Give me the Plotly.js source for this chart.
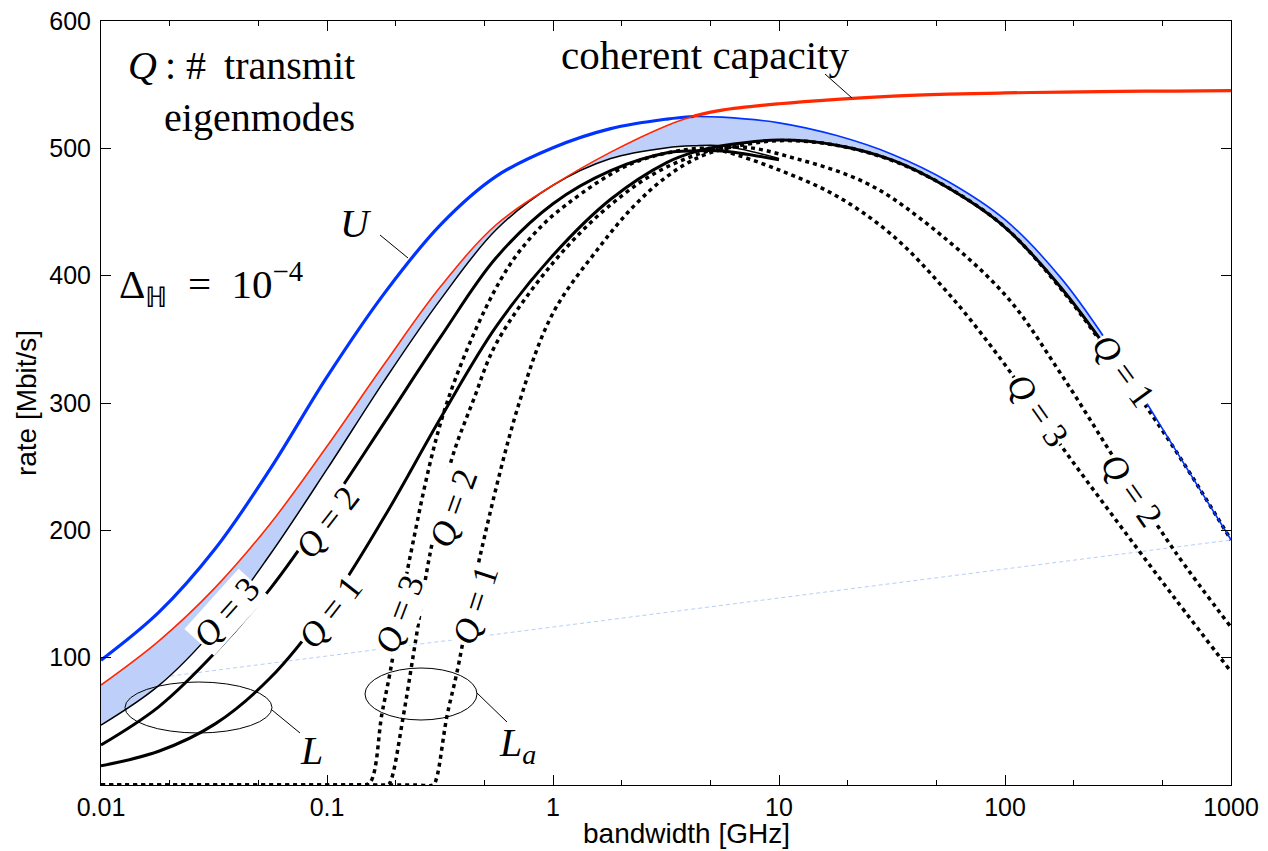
<!DOCTYPE html>
<html><head><meta charset="utf-8">
<script src="https://cdn.plot.ly/plotly-3.0.1.min.js"></script>
<style>html,body{margin:0;padding:0;background:#fff}#chart{width:1268px;height:851px}</style>
</head><body><div id="chart"></div>
<script>
// common bandwidth grid [GHz]
const bandwidth = [0.01,0.018,0.032,0.056,0.1,0.18,0.32,0.56,1,1.8,3.2,4.2,5.6,10,18,32,56,100,180,320,560,1000];
// upper bound U [Mbit/s]
const rateU = [98,135.5,185.5,248,320.5,386.5,440.5,478,500.5,515.5,523,525,524.5,520,510,495,474,444,396.5,334,265,192.5];
// coherent capacity
const rateCoherent = [78.5,113,155,205,266,331,392,440,471,497,518,525.4,530,535,538.5,541,542.5,543.5,544.2,544.7,545,545.3];
// lower bounds L (solid), Q = 1, 2, 3
const rateLQ1 = [15,26.5,48,84,139,211,289,360,416,460,489,497,502,506.5,502.5,490.5,469,438,389,329,null,null];
const rateLQ2 = [31.4,61.4,104,154,216.5,285,352.5,414,456.5,482.5,496.5,498,498,491,null,null,null,null,null,null,null,null];
const rateLQ3 = [47,78,123,181,248,318,382,436,471,492,500.5,502,502,492,null,null,null,null,null,null,null,null];
// lower bounds L_a (dotted)
const bwLaQ3 = [0.01,0.14,0.155,0.175,0.19,0.233,0.339,0.583,0.817,1.15,2.26,4.47,5.6,10,17.8,31.6,56.2,100,178,316,562,1000];
const rateLaQ3 = [0,0,2,56,88,179,300,396,432,456,488.5,500,498,483,463,432,386,330,266,206,147,89];
const bwLaQ2 = [0.01,0.15,0.186,0.193,0.218,0.245,0.286,0.355,0.444,0.562,1,1.78,3.16,6.25,12.4,24.4,42.1,100,178,316,562,1000];
const rateLaQ2 = [0,0,0,5,55,110,182,255,302,347,410,455,485,501,491,472.6,445,385,322,252,184,124];
const bwLaQ1 = [0.01,0.25,0.295,0.305,0.339,0.375,0.475,0.714,1,1.61,2.26,3.18,4.47,6.25,10,17.8,31.6,56.2,100,178,316,562,1000];
const rateLaQ1 = [0,0,0,5,53.6,87.7,179.3,302,370.6,422.8,454,477.7,493.4,501,506,502.5,490.5,469,438,389,329,264,192.5];
// axis ticks
const xTickVals = [0.01,0.1,1,10,100,1000];
const xTickText = ['0.01','0.1','1','10','100','1000'];
const yTickVals = [100,200,300,400,500,600];

const BLUE = 'rgb(0,51,255)', RED = 'rgb(255,40,0)', SHADE = 'rgb(190,208,250)';
const crossIdx = 11; // U and coherent capacity cross at bandwidth[11]

// shaded band: between max of solid L curves and min(U, coherent)
const lowerBand = [], upperBand = [], bandX = [];
for (let i = 0; i < bandwidth.length; i++) {
  const c = [rateLQ1[i], rateLQ3[i]].filter(v => v !== null);
  if (!c.length) continue;
  bandX.push(bandwidth[i]);
  lowerBand.push(Math.max(...c));
  upperBand.push(Math.min(rateU[i], rateCoherent[i]));
}

const sp = {shape:'spline', smoothing:1};
function line(x, y, color, width, dash) {
  return {x, y, type:'scatter', mode:'lines', hoverinfo:'skip', showlegend:false,
    line:Object.assign({color, width, dash: dash || 'solid'}, sp)};
}
const dotDash = '4px,4px';
const traces = [
  {x:bandX, y:lowerBand, type:'scatter', mode:'lines', line:Object.assign({width:0}, sp), hoverinfo:'skip', showlegend:false},
  {x:bandX, y:upperBand, type:'scatter', mode:'lines', fill:'tonexty', fillcolor:SHADE, line:Object.assign({width:0}, sp), hoverinfo:'skip', showlegend:false},
  line(bwLaQ1, rateLaQ1, 'black', 3.5, dotDash),
  line(bwLaQ2, rateLaQ2, 'black', 3.5, dotDash),
  line(bwLaQ3, rateLaQ3, 'black', 3.5, dotDash),
  line(bandwidth, rateLQ1, 'black', 3),
  line(bandwidth, rateLQ2, 'black', 3),
  line(bandwidth, rateLQ3, 'black', 1.5),
  line(bandwidth.slice(0, crossIdx+1), rateU.slice(0, crossIdx+1), BLUE, 3.2),
  line(bandwidth.slice(crossIdx), rateU.slice(crossIdx), BLUE, 1.6),
  line(bandwidth.slice(0, crossIdx+1), rateCoherent.slice(0, crossIdx+1), RED, 1.6),
  line(bandwidth.slice(crossIdx), rateCoherent.slice(crossIdx), RED, 3.2)
];

// plot area geometry (pixels) for placing decorations
const PL = 101, PR = 1231, PT = 21, PB = 785;
const fx = p => (p - PL) / (PR - PL);
const fy = p => (PB - p) / (PB - PT);

const serif = 'Liberation Serif, Times New Roman, serif';
const sans = 'Liberation Sans, Arial, sans-serif';
function curveLabel(q, cx, cy, ang) {
  return {xref:'paper', yref:'paper', x:fx(cx), y:fy(cy), xanchor:'center', yanchor:'middle',
    text:'<i>Q</i> = ' + q, showarrow:false, textangle:ang, bgcolor:'white', borderpad:0,
    font:{family:serif, size:35, color:'black'}};
}
function txt(text, cx, cy, size, xa, fam) {
  return {xref:'paper', yref:'paper', x:fx(cx), y:fy(cy), xanchor:xa || 'center', yanchor:'middle',
    text, showarrow:false, font:{family:fam || serif, size, color:'black'}};
}
const annotations = [
  curveLabel(3, 226, 612, -48),
  curveLabel(2, 327, 522, -52),
  curveLabel(1, 330, 612, -52),
  curveLabel(3, 399, 614, -69),
  curveLabel(2, 453, 508, -70),
  curveLabel(1, 475, 605, -72),
  curveLabel(1, 1123, 371, 54),
  curveLabel(3, 1038, 410, 55),
  curveLabel(2, 1132, 490, 55),
  {xref:'paper', yref:'paper', x:fx(357), y:fy(41), xanchor:'right', yanchor:'top', align:'right',
   text:'<i>Q</i>\u2009:\u00a0#\u00a0\u2009transmit<br>eigenmodes', showarrow:false, font:{family:serif, size:40, color:'black'}},
  txt('Δ<sub>ℍ</sub>\u2002=\u200210<sup>−4</sup>', 117, 284, 41, 'left'),
  txt('coherent capacity', 705, 55, 41),
  txt('<i>U</i>', 356, 224, 40),
  txt('<i>L</i>', 311, 750, 40),
  txt('<i>L<sub>a</sub></i>', 517, 745, 40),
  // x-axis title (placed as in the reference, slightly right of the axis centre)
  {xref:'paper', yref:'paper', x:fx(686), y:fy(833), xanchor:'center', yanchor:'middle',
   text:'bandwidth [GHz]', showarrow:false, font:{family:sans, size:28, color:'black'}}
];

function seg(x0, y0, x1, y1) {
  return {type:'line', xref:'paper', yref:'paper', x0:fx(x0), y0:fy(y0), x1:fx(x1), y1:fy(y1),
    line:{color:'black', width:1}};
}
const shapes = [
  {type:'line', xref:'paper', yref:'paper', x0:0, y0:fy(685), x1:1, y1:fy(540),
   line:{color:'rgb(185,205,250)', width:1, dash:'4px,3px'}, layer:'below'},
  {type:'circle', xref:'paper', yref:'paper', x0:fx(125), x1:fx(272), y0:fy(733), y1:fy(682), line:{color:'black', width:1}},
  {type:'circle', xref:'paper', yref:'paper', x0:fx(365), x1:fx(477), y0:fy(720), y1:fy(668), line:{color:'black', width:1}},
  seg(272, 710, 300, 733),
  seg(477, 693, 507, 722),
  seg(380, 235, 408, 258),
  seg(825, 74, 852, 98)
];

const tickFont = {family:sans, size:25, color:'black'};
const titleFont = {family:sans, size:28, color:'black'};
const layout = {
  width:1268, height:851,
  margin:{l:PL, r:1268-PR, t:PT, b:851-PB},
  paper_bgcolor:'white', plot_bgcolor:'white',
  showlegend:false,
  xaxis:{type:'log', range:[-2,3], tickvals:xTickVals, ticktext:xTickText,
    ticks:'inside', ticklen:10, tickwidth:1, tickcolor:'black',
    minor:{ticks:'inside', ticklen:5, tickwidth:1, tickcolor:'black', showgrid:false},
    showline:true, linecolor:'black', linewidth:1, mirror:'ticks',
    showgrid:false, zeroline:false, tickfont:tickFont},
  yaxis:{range:[0,600], tickvals:yTickVals,
    ticks:'inside', ticklen:10, tickwidth:1, tickcolor:'black',
    showline:true, linecolor:'black', linewidth:1, mirror:'ticks',
    showgrid:false, zeroline:false, tickfont:tickFont, ticklabelstandoff:4,
    title:{text:'rate [Mbit/s]', font:titleFont, standoff:4}},
  annotations, shapes
};
Plotly.newPlot('chart', traces, layout, {staticPlot:true});
</script></body></html>
